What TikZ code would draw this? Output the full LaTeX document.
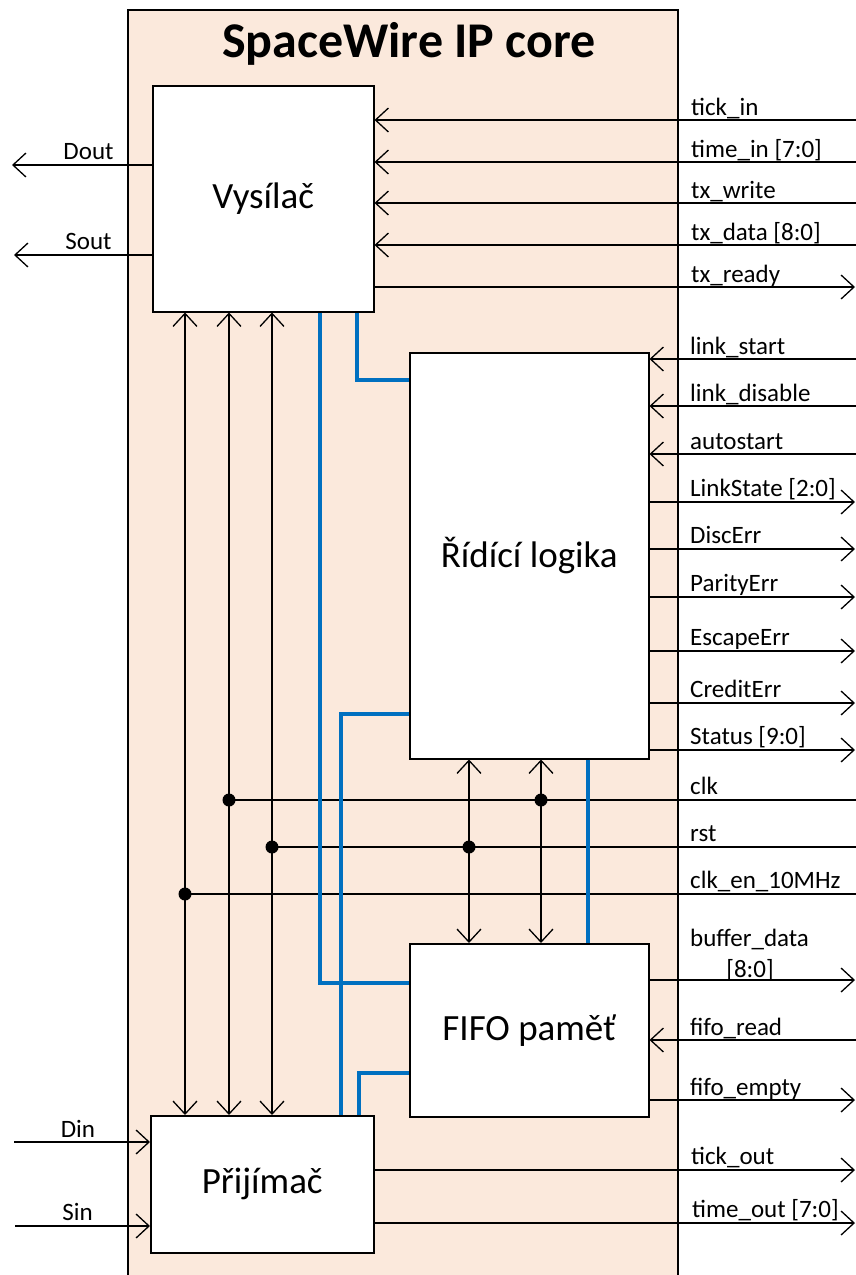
\documentclass[tikz,border=0pt]{standalone}
\usepackage{fontspec}
\setmainfont{Carlito}
\usetikzlibrary{arrows.meta}
\definecolor{corefill}{HTML}{FBE9DC}
\definecolor{bus}{HTML}{0070C0}
\begin{document}
\begin{tikzpicture}[x=1pt,y=-1pt,
  vtip/.tip={Straight Barb[length=13pt,width=24pt]},
  wire/.style={line width=1.3pt},
  blk/.style={draw, line width=1.5pt, fill=white, anchor=north west, inner sep=0pt, font=\fontsize{37}{40}\selectfont},
  lbl/.style={anchor=base west, inner sep=0pt, font=\fontsize{25}{28}\selectfont},
  lblc/.style={anchor=base, inner sep=0pt, font=\fontsize{25}{28}\selectfont},
  busw/.style={draw=bus, line width=4.5pt},
  dot/.style={circle, fill=black, minimum size=13pt, inner sep=0pt}
]
\useasboundingbox (0,0) rectangle (856,1275);
% core
\fill[corefill] (128,10) rectangle (678,1290);
\draw[line width=1.5pt] (128,1290) -- (128,10) -- (678,10) -- (678,1290);
\node[anchor=base, inner sep=0pt, font=\fontsize{50}{55}\selectfont\bfseries] (title) at (409,57) {SpaceWire IP core};

% blocks
\node[blk, minimum width=221pt, minimum height=226pt] (vys) at (152,85) {Vysílač};
\node[blk, minimum width=239pt, minimum height=406pt] (rid) at (409,352) {Řídící logika};
\node[blk, minimum width=239pt, minimum height=173pt] (fifo) at (409,943) {FIFO paměť};
\node[blk, minimum width=223pt, minimum height=137pt] (pri) at (150,1115) {Přijímač};

% right-side coordinates
\coordinate (tickin) at (856,120);
\coordinate (timein) at (856,162);
\coordinate (txwrite) at (856,203);
\coordinate (txdata) at (856,245);
\coordinate (txready) at (855,287);
\coordinate (linkstart) at (856,359);
\coordinate (linkdis) at (856,406);
\coordinate (autost) at (856,454);
\coordinate (linkstate) at (855,502);
\coordinate (discerr) at (855,549);
\coordinate (parerr) at (855,597);
\coordinate (escerr) at (855,651);
\coordinate (crederr) at (855,703);
\coordinate (status) at (855,750);
\coordinate (clk) at (856,800);
\coordinate (rst) at (856,847);
\coordinate (clken) at (856,894);
\coordinate (bufdata) at (855,980);
\coordinate (fiforead) at (856,1040);
\coordinate (fifoempty) at (855,1100);
\coordinate (tickout) at (855,1170);
\coordinate (timeout) at (855,1223);
% left-side coordinates
\coordinate (dout) at (12,165);
\coordinate (sout) at (14,255);
\coordinate (din) at (14,1142);
\coordinate (sin) at (15,1226);

% transmitter signals
\draw[wire,-{vtip}] (tickin) -- (vys.east |- tickin);
\draw[wire,-{vtip}] (timein) -- (vys.east |- timein);
\draw[wire,-{vtip}] (txwrite) -- (vys.east |- txwrite);
\draw[wire,-{vtip}] (txdata) -- (vys.east |- txdata);
\draw[wire,-{vtip}] (vys.east |- txready) -- (txready);
\draw[wire,-{vtip}] (vys.west |- dout) -- (dout);
\draw[wire,-{vtip}] (vys.west |- sout) -- (sout);

% control logic signals
\draw[wire,-{vtip}] (linkstart) -- (rid.east |- linkstart);
\draw[wire,-{vtip}] (linkdis) -- (rid.east |- linkdis);
\draw[wire,-{vtip}] (autost) -- (rid.east |- autost);
\draw[wire,-{vtip}] (rid.east |- linkstate) -- (linkstate);
\draw[wire,-{vtip}] (rid.east |- discerr) -- (discerr);
\draw[wire,-{vtip}] (rid.east |- parerr) -- (parerr);
\draw[wire,-{vtip}] (rid.east |- escerr) -- (escerr);
\draw[wire,-{vtip}] (rid.east |- crederr) -- (crederr);
\draw[wire,-{vtip}] (rid.east |- status) -- (status);

% fifo signals
\draw[wire,-{vtip}] (fifo.east |- bufdata) -- (bufdata);
\draw[wire,-{vtip}] (fiforead) -- (fifo.east |- fiforead);
\draw[wire,-{vtip}] (fifo.east |- fifoempty) -- (fifoempty);

% receiver signals
\draw[wire,-{vtip}] (pri.east |- tickout) -- (tickout);
\draw[wire,-{vtip}] (pri.east |- timeout) -- (timeout);
\draw[wire,-{vtip}] (din) -- (pri.west |- din);
\draw[wire,-{vtip}] (sin) -- (pri.west |- sin);

% vertical bidirectional links
\draw[wire,{vtip}-{vtip}] (185,0 |- vys.south) -- (185,0 |- pri.north);
\draw[wire,{vtip}-{vtip}] (229,0 |- vys.south) -- (229,0 |- pri.north);
\draw[wire,{vtip}-{vtip}] (272,0 |- vys.south) -- (272,0 |- pri.north);
\draw[wire,{vtip}-{vtip}] (469,0 |- rid.south) -- (469,0 |- fifo.north);
\draw[wire,{vtip}-{vtip}] (541,0 |- rid.south) -- (541,0 |- fifo.north);

% clock / reset / enable distribution
\node[dot] (dclk1) at (229,800) {};
\node[dot] (dclk2) at (541,800) {};
\node[dot] (drst1) at (272,847) {};
\node[dot] (drst2) at (469,847) {};
\node[dot] (den) at (185,894) {};
\draw[wire] (clk) -- (dclk1.center);
\draw[wire] (rst) -- (drst1.center);
\draw[wire] (clken) -- (den.center);

% blue buses
\draw[busw] (320,0 |- vys.south) -- (320,983) -- (fifo.west |- 0,983);
\draw[busw] (357,0 |- vys.south) -- (357,380) -- (rid.west |- 0,380);
\draw[busw] (rid.west |- 0,714) -- (341,714) -- (341,0 |- pri.north);
\draw[busw] (359,0 |- pri.north) -- (359,1073) -- (fifo.west |- 0,1073);
\draw[busw] (588,0 |- rid.south) -- (588,0 |- fifo.north);

% labels
\node[lbl] (ltickin) at (691,115) {tick\_in};
\node[lbl] (ltimein) at (691,157) {time\_in [7:0]};
\node[lbl] (ltxwrite) at (691,198) {tx\_write};
\node[lbl] (ltxdata) at (691,240) {tx\_data [8:0]};
\node[lbl] (ltxready) at (691,282) {tx\_ready};
\node[lbl] (llinkstart) at (690,354) {link\_start};
\node[lbl] (llinkdis) at (690,401) {link\_disable};
\node[lbl] (lautost) at (690,449) {autostart};
\node[lbl] (llinkstate) at (690,496) {LinkState [2:0]};
\node[lbl] (ldiscerr) at (690,543) {DiscErr};
\node[lbl] (lparerr) at (690,591) {ParityErr};
\node[lbl] (lescerr) at (690,645) {EscapeErr};
\node[lbl] (lcrederr) at (690,697) {CreditErr};
\node[lbl] (lstatus) at (690,744) {Status [9:0]};
\node[lbl] (lclk) at (690,794) {clk};
\node[lbl] (lrst) at (690,841) {rst};
\node[lbl] (lclken) at (690,888) {clk\_en\_10MHz};
\node[lbl] (lbufdata) at (690,946) {buffer\_data};
\node[lblc] (lbufdata2) at (750,977) {[8:0]};
\node[lbl] (lfiforead) at (690,1035) {fifo\_read};
\node[lbl] (lfifoempty) at (690,1095) {fifo\_empty};
\node[lbl] (ltickout) at (691,1164) {tick\_out};
\node[lbl] (ltimeout) at (692,1217) {time\_out [7:0]};
\node[lblc] (ldout) at (88.5,159) {Dout};
\node[lblc] (lsout) at (88.5,249) {Sout};
\node[lblc] (ldin) at (78,1137) {Din};
\node[lblc] (lsin) at (77.5,1220) {Sin};
\end{tikzpicture}
\end{document}
